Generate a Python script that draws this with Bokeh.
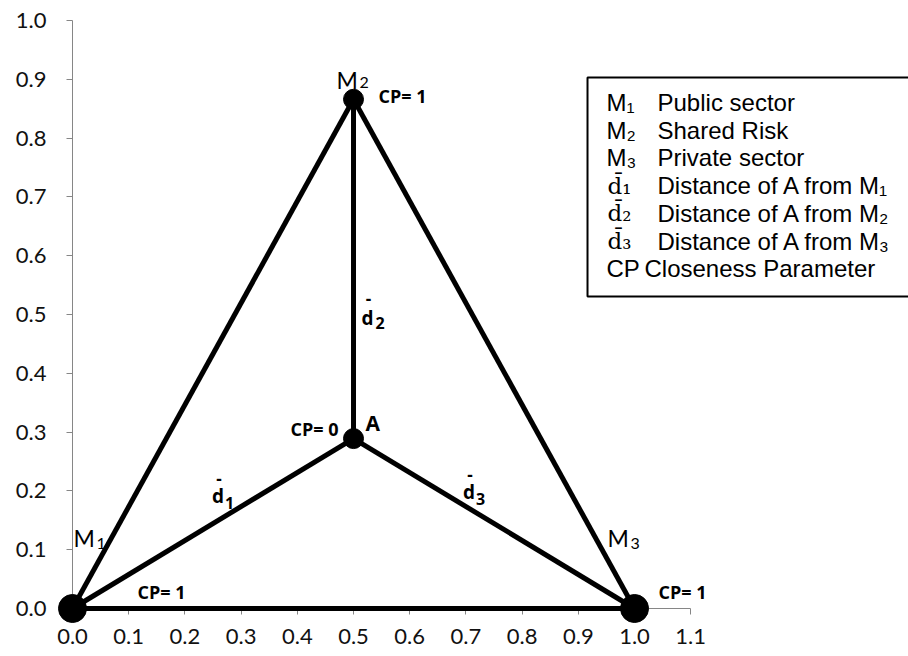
from bokeh.plotting import figure
from bokeh.models import Range1d, FixedTicker, PrintfTickFormatter, Label, ColumnDataSource
from bokeh.embed import file_html
from bokeh.resources import INLINE

# ---------------- data ----------------
vertex_names = ["M1", "M2", "M3", "A"]
vertex_x = [0.0, 0.5, 1.0, 0.5]
vertex_y = [0.0, 0.866, 0.0, 0.289]
vertex_cp = ["CP= 1", "CP= 1", "CP= 1", "CP= 0"]

edge_from = ["M1", "M2", "M1", "A", "A", "A"]
edge_to = ["M2", "M3", "M3", "M1", "M2", "M3"]

distance_edges = [("A", "M1"), ("A", "M2"), ("A", "M3")]
distance_subs = ["1", "2", "3"]

x_ticks = [0.0, 0.1, 0.2, 0.3, 0.4, 0.5, 0.6, 0.7, 0.8, 0.9, 1.0, 1.1]
y_ticks = [0.0, 0.1, 0.2, 0.3, 0.4, 0.5, 0.6, 0.7, 0.8, 0.9, 1.0]

legend_symbols = ["M\u2081", "M\u2082", "M\u2083", "d\u0304\u2081", "d\u0304\u2082", "d\u0304\u2083", "CP"]
legend_texts = ["Public sector", "Shared Risk", "Private sector",
                "Distance of A from M\u2081", "Distance of A from M\u2082",
                "Distance of A from M\u2083", "Closeness Parameter"]

# ---------------- styles ----------------
marker_sizes = {"M1": 28, "M2": 20, "M3": 28, "A": 20}
AX = "#868686"
TICK_FONT = "Lato"
BOLD_FONT = "Open Sans"
LEG_FONT = "Liberation Sans"

vx = dict(zip(vertex_names, vertex_x))
vy = dict(zip(vertex_names, vertex_y))

p = figure(width=908, height=656, x_range=Range1d(0, 1.4875), y_range=Range1d(0, 1.0),
           output_backend="svg", toolbar_location=None,
           min_border_left=72, min_border_right=0, min_border_top=20, min_border_bottom=48)
p.outline_line_color = None
p.grid.grid_line_color = None
p.background_fill_color = "white"

for ax, ticks in ((p.xaxis, x_ticks), (p.yaxis, y_ticks)):
    ax.ticker = FixedTicker(ticks=ticks)
    ax.formatter = PrintfTickFormatter(format="%.1f")
    ax.axis_line_color = AX
    ax.major_tick_line_color = AX
    ax.minor_tick_line_color = None
    ax.major_tick_in = 0
    ax.major_tick_out = 6
    ax.major_label_text_font = TICK_FONT
    ax.major_label_text_font_size = "22px"
    ax.major_label_text_color = "#111111"
p.xaxis.bounds = (0, x_ticks[-1])
p.yaxis.bounds = (0, y_ticks[-1])
p.xaxis.major_label_standoff = 14
p.yaxis.major_label_standoff = 20

# edges
src_e = ColumnDataSource(dict(
    x0=[vx[a] for a in edge_from], y0=[vy[a] for a in edge_from],
    x1=[vx[b] for b in edge_to], y1=[vy[b] for b in edge_to]))
p.segment("x0", "y0", "x1", "y1", source=src_e, line_color="black", line_width=5, level="overlay")

# vertices
src_v = ColumnDataSource(dict(x=vertex_x, y=vertex_y, s=[marker_sizes[n] for n in vertex_names]))
p.scatter("x", "y", size="s", source=src_v, marker="circle", fill_color="black", line_color="black", level="overlay")


def lab(x, y, text, dx, dy, font, size, style="normal", align="left", baseline="alphabetic"):
    p.add_layout(Label(x=x, y=y, x_offset=dx, y_offset=dy, text=text, text_font=font,
                       text_font_size=f"{size}px", text_font_style=style, text_align=align,
                       text_baseline=baseline, text_color="black"))


# vertex name labels (M + subscript)
m_offsets = {"M1": ((1, 71), (24, 65)), "M2": ((-17, 19), (6, 17)), "M3": ((-27, 71), (-4, 65))}
for n in ["M1", "M2", "M3"]:
    (mdx, mdy), (sdx, sdy) = m_offsets[n]
    lab(vx[n], vy[n], "M", mdx, mdy, TICK_FONT, 23)
    lab(vx[n], vy[n], n[1], sdx, sdy, TICK_FONT, 16)

# CP labels
cp_offsets = {"M1": (65, 17, "left"), "M2": (25, 3, "left"), "M3": (24, 17, "left"), "A": (-15, 10, "right")}
for n, t in zip(vertex_names, vertex_cp):
    dx, dy, al = cp_offsets[n]
    lab(vx[n], vy[n], t, dx, dy, BOLD_FONT, 18, "bold", al, "middle")
lab(vx["A"], vy["A"], "A", 12, 16, BOLD_FONT, 21, "bold", "left", "middle")

# distance labels d-bar with subscript, anchored at edge midpoints
d_offsets = {"M1": ((-1, 28), (6, 45), (12, 21)),
             "M2": ((8, -49), (15, -30), (22, -54)),
             "M3": ((-31, 32), (-24, 49), (-18, 25))}
for (a, b), sub in zip(distance_edges, distance_subs):
    mx = (vx[a] + vx[b]) / 2
    my = (vy[a] + vy[b]) / 2
    (ddx, ddy), (bdx, bdy), (sdx, sdy) = d_offsets[b]
    lab(mx, my, "d", ddx, ddy, BOLD_FONT, 19, "bold")
    lab(mx, my, "-", bdx, bdy, BOLD_FONT, 17, "bold", "center", "middle")
    lab(mx, my, sub, sdx, sdy, BOLD_FONT, 16, "bold")

# legend box (open on the right, running past the picture edge)
leg_left = (587 - 72) / 562
leg_top = (608 - 77) / 588
leg_bottom = (608 - 296) / 588
p.quad(left=[leg_left], right=[1.7], top=[leg_top], bottom=[leg_bottom],
       fill_alpha=0, line_color="black", line_width=2, level="overlay")
for i, (sym, txt) in enumerate(zip(legend_symbols, legend_texts)):
    dy = -(25 + 27.7 * i)
    if sym.startswith("d"):
        lab(leg_left, leg_top, sym, 20, dy, "DejaVu Serif", 23, "normal", "left", "middle")
    else:
        lab(leg_left, leg_top, sym, 19, dy, LEG_FONT, 24, "normal", "left", "middle")
    tx = 57 if sym == "CP" else 70
    lab(leg_left, leg_top, txt, tx, dy, LEG_FONT, 24, "normal", "left", "middle")

open("out.html", "w").write(file_html(p, INLINE))
